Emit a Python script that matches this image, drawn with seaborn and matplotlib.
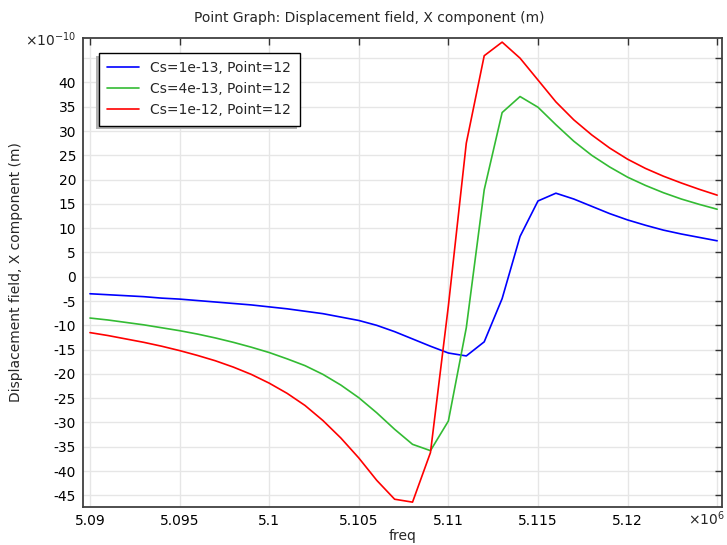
import numpy as np
import pandas as pd
import matplotlib
matplotlib.use("Agg")
import matplotlib.pyplot as plt
import seaborn as sns
from matplotlib.patches import Rectangle
from matplotlib.transforms import IdentityTransform

# frequency sweep (kHz) and x displacement (units of 1e-10 m)
freq_khz = [5090, 5091, 5092, 5093, 5094, 5095, 5096, 5097, 5098, 5099,
            5100, 5101, 5102, 5103, 5104, 5105, 5106, 5107, 5108, 5109,
            5110, 5111, 5112, 5113, 5114, 5115, 5116, 5117, 5118, 5119,
            5120, 5121, 5122, 5123, 5124, 5125]

disp_cs1 = [-3.5, -3.7, -3.9, -4.1, -4.4, -4.6, -4.9, -5.2, -5.5, -5.8,
            -6.2, -6.6, -7.1, -7.6, -8.3, -9.0, -10.0, -11.3, -12.8, -14.3,
            -15.7, -16.3, -13.4, -4.5, 8.3, 15.6, 17.2, 16.0, 14.5, 13.0,
            11.7, 10.6, 9.6, 8.8, 8.1, 7.4]

disp_cs4 = [-8.5, -8.9, -9.4, -9.9, -10.5, -11.1, -11.8, -12.6, -13.5, -14.5,
            -15.6, -16.9, -18.3, -20.1, -22.3, -24.9, -28.0, -31.4, -34.5, -35.8,
            -29.7, -10.5, 17.9, 33.8, 37.1, 34.9, 31.3, 27.9, 25.0, 22.6,
            20.5, 18.8, 17.3, 16.0, 14.9, 13.9]

disp_cs10 = [-11.5, -12.1, -12.8, -13.5, -14.3, -15.2, -16.2, -17.3, -18.6, -20.1,
             -21.9, -24.0, -26.5, -29.6, -33.2, -37.3, -41.9, -45.8, -46.4, -36.2,
             -6.0, 27.5, 45.5, 48.3, 45.0, 40.5, 36.0, 32.3, 29.2, 26.5,
             24.2, 22.3, 20.7, 19.3, 18.0, 16.8]

labels = ["Cs=1e-13, Point=12", "Cs=4e-13, Point=12", "Cs=1e-12, Point=12"]
colors = ["#0000ff", "#33bb33", "#ff0000"]

x_ticks = [5.090e6, 5.095e6, 5.100e6, 5.105e6, 5.110e6, 5.115e6, 5.120e6, 5.125e6]
x_ticklabels = ["5.09", "5.095", "5.1", "5.105", "5.11", "5.115", "5.12", ""]
y_ticks = list(range(-45, 50, 5))
y_ticklabels = [str(v) for v in y_ticks[:-1]] + [""]

freq = [f * 1e3 for f in freq_khz]
df = pd.DataFrame({
    "freq": freq * 3,
    "disp": disp_cs1 + disp_cs4 + disp_cs10,
    "series": [labels[0]] * len(freq) + [labels[1]] * len(freq) + [labels[2]] * len(freq),
})

sns.set_theme(style="white")
plt.rcParams["font.family"] = ["DejaVu Sans"]

fig = plt.figure(figsize=(7.27, 5.45), dpi=100)
ax = fig.add_axes([83 / 727, 1 - 507 / 545, 639 / 727, 469 / 545])

sns.lineplot(data=df, x="freq", y="disp", hue="series", hue_order=labels,
             palette=dict(zip(labels, colors)), linewidth=1.2, ax=ax)

ax.set_xlim(5.08961e6, 5.12527e6)
ax.set_ylim(-47.4, 49.15)
ax.set_xticks(x_ticks)
ax.set_xticklabels(x_ticklabels)
ax.set_yticks(y_ticks)
ax.set_yticklabels(y_ticklabels)
ax.grid(True, color="#e6e6e6", linewidth=1)
ax.set_axisbelow(True)
ax.tick_params(direction="in", top=True, right=True, length=5, width=1,
               color="#333333", labelsize=10, pad=5, labelcolor="black")
for sp in ax.spines.values():
    sp.set_color("#404040")
    sp.set_linewidth(1.3)

ax.set_xlabel("freq", fontsize=10)
ax.set_ylabel("Displacement field, X component (m)", fontsize=10)
ax.xaxis.set_label_coords(0.5, -0.047)
ax.yaxis.set_label_coords(-0.094, 0.5)

fig.text(0.508, 0.967, "Point Graph: Displacement field, X component (m)",
         ha="center", va="center", fontsize=10)
fig.text(76 / 727, 1 - 40 / 545, r"$\times10^{-10}$", ha="right", va="center", fontsize=10)
fig.text(725 / 727, 1 - 519 / 545, r"$\times10^{6}$", ha="right", va="center", fontsize=10)

handles, _ = ax.get_legend_handles_labels()
leg = ax.legend(handles, labels, loc="upper left", bbox_to_anchor=(0.025, 0.968),
                borderaxespad=0, frameon=True, fancybox=False, shadow=False,
                fontsize=10, handlelength=2.3, borderpad=0.6)
leg.get_frame().set_edgecolor("black")
leg.get_frame().set_linewidth(1.0)
leg.get_frame().set_alpha(1)

fig.canvas.draw()
bb = leg.get_window_extent()
shadow = Rectangle((bb.x0 - 3, bb.y0 - 3), bb.width, bb.height, transform=IdentityTransform(),
                   facecolor="#b0b0b0", edgecolor="none", zorder=4.5, clip_on=False)
ax.add_artist(shadow)

fig.savefig("out.png", dpi=100)
